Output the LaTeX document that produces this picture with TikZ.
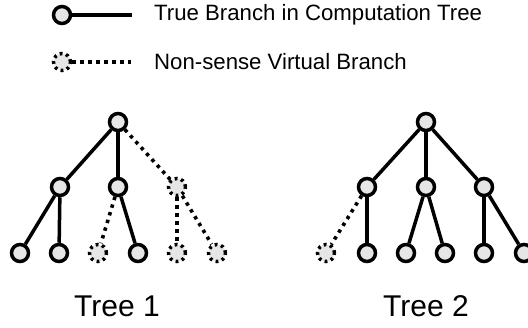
\documentclass[tikz,border=0pt]{standalone}
\usepackage{fontspec}
\setmainfont{Liberation Sans}
\begin{document}
\begin{tikzpicture}[x=1pt,y=-1pt,
  vnode/.style={circle,draw=black,fill=nodegray,line width=3.5pt,minimum size=17pt,inner sep=0pt},
  ghost/.style={circle,draw=black,fill=nodegray,line width=3.5pt,minimum size=17pt,inner sep=0pt,dash pattern=on 2.8pt off 3.6pt},
  truebr/.style={line width=3.5pt},
  fakebr/.style={line width=3.6pt,dash pattern=on 3.4pt off 4.6pt},
  legendtext/.style={anchor=west,inner sep=0pt,font=\fontsize{22.2}{26}\selectfont},
  treelabel/.style={inner sep=0pt,font=\fontsize{30}{34}\selectfont}]
\definecolor{nodegray}{HTML}{E6E6E6}
\useasboundingbox (0,0) rectangle (528,327);
\fill[white] (0,0) rectangle (528,327);

% legend
\node[vnode] (l1) at (62,15) {};
\coordinate (l1e) at (132,15);
\draw[truebr] (l1) -- (l1e);
\node[legendtext] (t1) at (154,15) {True Branch in Computation Tree};
\node[ghost] (l2) at (62,62) {};
\coordinate (l2e) at (131,62);
\draw[fakebr] (l2) -- (l2e);
\node[legendtext] (t2) at (154,62) {Non-sense Virtual Branch};

% tree 1
\node[vnode] (a) at (118,122) {};
\node[vnode] (a1) at (60,187) {};
\node[vnode] (a2) at (118,187) {};
\node[ghost] (a3) at (177,187) {};
\node[vnode] (a11) at (20,253) {};
\node[vnode] (a12) at (59,253) {};
\node[ghost] (a21) at (98,253) {};
\node[vnode] (a22) at (138,253) {};
\node[ghost] (a31) at (177,253) {};
\node[ghost] (a32) at (217,253) {};
\draw[truebr] (a) -- (a1);
\draw[truebr] (a) -- (a2);
\draw[fakebr] (a) -- (a3);
\draw[truebr] (a1) -- (a11);
\draw[truebr] (a1) -- (a12);
\draw[fakebr] (a2) -- (a21);
\draw[truebr] (a2) -- (a22);
\draw[fakebr] (a3) -- (a31);
\draw[fakebr] (a3) -- (a32);
\node[treelabel] (lab1) at (117,306) {Tree 1};

% tree 2
\node[vnode] (b) at (426,122) {};
\node[vnode] (b1) at (367,187) {};
\node[vnode] (b2) at (426,187) {};
\node[vnode] (b3) at (484,187) {};
\node[ghost] (b11) at (326,253) {};
\node[vnode] (b12) at (367,253) {};
\node[vnode] (b21) at (406,253) {};
\node[vnode] (b22) at (445,253) {};
\node[vnode] (b31) at (484,253) {};
\node[vnode] (b32) at (524,253) {};
\draw[truebr] (b) -- (b1);
\draw[truebr] (b) -- (b2);
\draw[truebr] (b) -- (b3);
\draw[fakebr] (b1) -- (b11);
\draw[truebr] (b1) -- (b12);
\draw[truebr] (b2) -- (b21);
\draw[truebr] (b2) -- (b22);
\draw[truebr] (b3) -- (b31);
\draw[truebr] (b3) -- (b32);
\node[treelabel] (lab2) at (426,306) {Tree 2};
\end{tikzpicture}
\end{document}
